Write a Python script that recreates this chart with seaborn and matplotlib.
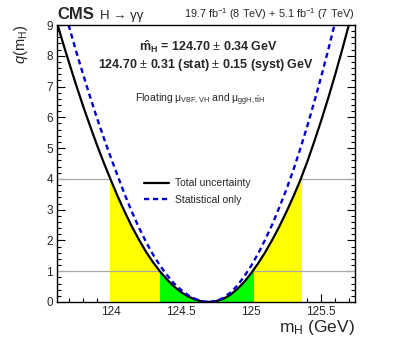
import matplotlib
matplotlib.use("Agg")
import matplotlib.pyplot as plt
from matplotlib.patches import Rectangle
import numpy as np
import pandas as pd
import seaborn as sns

# mass grid (GeV) and q(mH) values
mass = [123.60, 123.65, 123.70, 123.75, 123.80, 123.85, 123.90, 123.95,
        124.00, 124.05, 124.10, 124.15, 124.20, 124.25, 124.30, 124.35,
        124.40, 124.45, 124.50, 124.55, 124.60, 124.65, 124.70, 124.75,
        124.80, 124.85, 124.90, 124.95, 125.00, 125.05, 125.10, 125.15,
        125.20, 125.25, 125.30, 125.35, 125.40, 125.45, 125.50, 125.55,
        125.60, 125.65, 125.70, 125.75]
q_total = [9.32, 8.53, 7.79, 7.07, 6.38, 5.73, 5.10, 4.51,
           3.95, 3.41, 2.91, 2.44, 2.02, 1.63, 1.29, 0.99,
           0.73, 0.50, 0.32, 0.18, 0.08, 0.02, 0.00, 0.03,
           0.10, 0.23, 0.42, 0.65, 0.94, 1.26, 1.62, 2.02,
           2.45, 2.92, 3.42, 3.96, 4.56, 5.22, 5.91, 6.64,
           7.41, 8.22, 9.07, 9.95]
q_stat = [10.59, 9.77, 8.96, 8.17, 7.41, 6.68, 5.98, 5.31,
          4.68, 4.07, 3.47, 2.92, 2.41, 1.95, 1.54, 1.18,
          0.87, 0.60, 0.39, 0.22, 0.10, 0.02, 0.00, 0.03,
          0.13, 0.30, 0.53, 0.83, 1.18, 1.58, 2.03, 2.52,
          3.07, 3.65, 4.28, 4.98, 5.72, 6.51, 7.34, 8.21,
          9.12, 10.08, 11.06, 12.09]

legend_labels = ["Total uncertainty", "Statistical only"]
lumi_text = r"19.7 fb$^{-1}$ (8 TeV) + 5.1 fb$^{-1}$ (7 TeV)"
result_line1 = r"$\mathbf{\hat{m}_H}$ = 124.70 $\pm$ 0.34 GeV"
result_line2 = r"124.70 $\pm$ 0.31 (stat) $\pm$ 0.15 (syst) GeV"
model_text = r"Floating μ$_{\rm VBF,VH}$ and μ$_{\rm ggH,t\bar{t}H}$"

sns.set_theme(style="ticks")
plt.rcParams["font.family"] = ["Liberation Sans", "DejaVu Sans"]
plt.rcParams["mathtext.fontset"] = "custom"
plt.rcParams["mathtext.rm"] = "Liberation Sans"
plt.rcParams["mathtext.it"] = "Liberation Sans:italic"
plt.rcParams["mathtext.bf"] = "Liberation Sans:bold"

df = pd.DataFrame({"mass": mass, "total": q_total, "stat": q_stat})
m = np.array(mass)
qt = np.array(q_total)

fig = plt.figure(figsize=(4.07, 3.40), dpi=100)
ax = fig.add_axes([57 / 407, 38 / 340, 298 / 407, 277 / 340])
xlo, xhi = 123.615, 125.74


def crossings(level):
    imin = int(np.argmin(qt))
    left = np.interp(level, qt[:imin + 1][::-1], m[:imin + 1][::-1])
    right = np.interp(level, qt[imin:], m[imin:])
    return left, right


# 2 sigma (yellow) and 1 sigma (green) bands under the total curve
for level, color in [(4, "#ffff00"), (1, "#00ff00")]:
    lo, hi = crossings(level)
    band = ax.fill_between(m, 0, qt, color=color, lw=0, zorder=1)
    clip = Rectangle((lo, 0), hi - lo, 10, transform=ax.transData)
    band.set_clip_path(clip)

# reference lines at q=1 and q=4, hidden inside the parabola
ax.hlines([1, 4], xlo, xhi, color="#aaaaaa", lw=0.9, zorder=2)
ax.fill_between(m, qt, 20, color="white", lw=0, zorder=3)

sns.lineplot(data=df, x="mass", y="total", ax=ax, color="black", lw=1.6,
             label=legend_labels[0], zorder=5)
sns.lineplot(data=df, x="mass", y="stat", ax=ax, color="#0000cc", lw=1.7,
             label=legend_labels[1], zorder=6)
ax.lines[-1].set_linestyle((0, (2.2, 1.6)))

ax.set_xlim(xlo, xhi)
ax.set_ylim(0, 9)
ax.set_xticks([124, 124.5, 125, 125.5])
ax.set_xticklabels(["124", "124.5", "125", "125.5"])
ax.set_xticks(np.arange(123.7, 125.75, 0.1), minor=True)
ax.set_yticks(range(0, 10))
ax.set_yticks(np.arange(0, 9.01, 0.2), minor=True)
ax.tick_params(which="both", direction="in", top=False, right=True,
               labelsize=8.5, color="black", width=0.8)
ax.tick_params(which="major", length=5.5, pad=3)
ax.tick_params(which="minor", length=3)
for s in ax.spines.values():
    s.set_linewidth(1.0)
    s.set_color("black")
    s.set_zorder(10)

ax.set_xlabel(r"m$_{\rm H}$ (GeV)", fontsize=12.5, loc="right", labelpad=0)
ax.set_ylabel(r"$q$(m$_{\rm H}$)", fontsize=10.5, loc="top", labelpad=12)

ax.legend(loc="upper left", bbox_to_anchor=(0.26, 0.48), frameon=False,
          fontsize=7.5, handlelength=2.4, handletextpad=0.6,
          labelspacing=0.6)

ax.text(0.0, 1.012, "CMS", transform=ax.transAxes, fontsize=12,
        fontweight="bold", ha="left", va="bottom")
ax.text(0.145, 1.012, "H → γγ", transform=ax.transAxes,
        fontsize=9.5, ha="left", va="bottom")
ax.text(1.0, 1.012, lumi_text, transform=ax.transAxes, fontsize=7.8,
        ha="right", va="bottom")
ax.text(0.507, 0.921, result_line1, transform=ax.transAxes, fontsize=9,
        fontweight="bold", ha="center", va="center")
ax.text(0.5, 0.856, result_line2, transform=ax.transAxes, fontsize=9,
        fontweight="bold", ha="center", va="center")
ax.text(0.48, 0.729, model_text, transform=ax.transAxes, fontsize=7.5,
        ha="center", va="center")

fig.savefig("out.png", dpi=100)
